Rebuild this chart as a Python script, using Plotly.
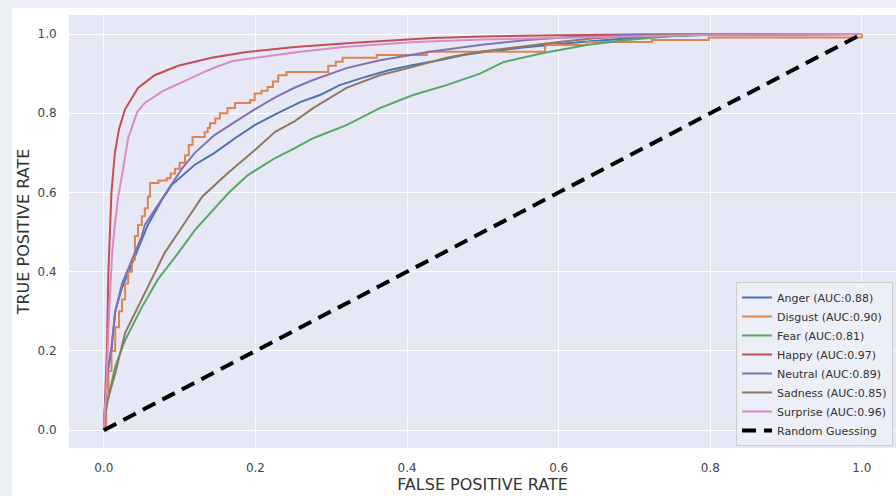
import plotly.graph_objects as go

# ---------------- data ----------------
anger_fpr = [0, 0.002, 0.005, 0.01, 0.015, 0.024, 0.037, 0.05, 0.058, 0.076, 0.09, 0.12, 0.146, 0.173, 0.199, 0.226,
             0.259, 0.285, 0.311, 0.342, 0.377, 0.408, 0.443, 0.474, 0.5, 0.55, 0.6, 0.65, 0.7, 0.75, 0.8, 1.0]
anger_tpr = [0, 0.08, 0.15, 0.2, 0.30, 0.36, 0.42, 0.48, 0.518, 0.58, 0.62, 0.67, 0.70, 0.737, 0.77, 0.797,
             0.828, 0.846, 0.871, 0.89, 0.909, 0.922, 0.934, 0.947, 0.954, 0.965, 0.975, 0.983, 0.99, 0.995, 0.998, 1.0]

disgust_fpr = [0, 0.003, 0.006, 0.01, 0.015, 0.02, 0.024, 0.028, 0.032, 0.037, 0.041, 0.045, 0.05, 0.054, 0.058,
               0.061, 0.072, 0.083, 0.088, 0.094, 0.1, 0.107, 0.112, 0.117, 0.133, 0.137, 0.14, 0.147, 0.153, 0.163,
               0.173, 0.193, 0.199, 0.208, 0.216, 0.223, 0.23, 0.241, 0.296, 0.306, 0.315, 0.36, 0.426, 0.582,
               0.637, 0.723, 0.798, 1.0]
disgust_tpr = [0, 0.08, 0.15, 0.2, 0.26, 0.3, 0.33, 0.37, 0.40, 0.43, 0.49, 0.518, 0.54, 0.56, 0.59,
               0.624, 0.63, 0.636, 0.648, 0.66, 0.675, 0.694, 0.72, 0.74, 0.752, 0.763, 0.775, 0.787, 0.80, 0.813,
               0.826, 0.833, 0.85, 0.857, 0.866, 0.88, 0.896, 0.904, 0.92, 0.93, 0.94, 0.947, 0.955, 0.972,
               0.98, 0.985, 0.991, 1.0]

fear_fpr = [0, 0.002, 0.005, 0.01, 0.015, 0.028, 0.05, 0.071, 0.098, 0.12, 0.146, 0.165, 0.19, 0.226, 0.252, 0.276,
            0.32, 0.364, 0.408, 0.452, 0.496, 0.527, 0.58, 0.637, 0.69, 0.72, 0.75, 0.8, 1.0]
fear_tpr = [0, 0.04, 0.076, 0.12, 0.16, 0.227, 0.31, 0.38, 0.447, 0.505, 0.56, 0.6, 0.644, 0.687, 0.712, 0.737,
            0.77, 0.813, 0.846, 0.871, 0.9, 0.929, 0.952, 0.972, 0.985, 0.99, 0.995, 0.998, 1.0]

happy_fpr = [0, 0.004, 0.006, 0.008, 0.01, 0.0145, 0.02, 0.028, 0.045, 0.067, 0.098, 0.142, 0.186, 0.252, 0.33,
             0.434, 0.5, 0.6, 0.7, 1.0]
happy_tpr = [0, 0.2, 0.4, 0.52, 0.6, 0.70, 0.76, 0.81, 0.864, 0.896, 0.92, 0.94, 0.954, 0.967, 0.978,
             0.99, 0.994, 0.997, 0.999, 1.0]

neutral_fpr = [0, 0.002, 0.005, 0.01, 0.015, 0.024, 0.037, 0.05, 0.054, 0.077, 0.103, 0.12, 0.146, 0.173, 0.199,
               0.226, 0.252, 0.276, 0.32, 0.364, 0.43, 0.496, 0.558, 0.62, 0.7, 1.0]
neutral_tpr = [0, 0.08, 0.15, 0.21, 0.30, 0.37, 0.43, 0.49, 0.518, 0.586, 0.66, 0.70, 0.745, 0.778, 0.81,
               0.84, 0.865, 0.884, 0.914, 0.934, 0.955, 0.972, 0.985, 0.993, 0.998, 1.0]

sadness_fpr = [0, 0.002, 0.005, 0.015, 0.028, 0.045, 0.063, 0.08, 0.103, 0.13, 0.164, 0.195, 0.226, 0.252, 0.276,
               0.32, 0.364, 0.408, 0.452, 0.496, 0.55, 0.6, 0.65, 0.75, 1.0]
sadness_tpr = [0, 0.04, 0.076, 0.144, 0.245, 0.31, 0.38, 0.447, 0.513, 0.59, 0.65, 0.70, 0.753, 0.78, 0.813,
               0.864, 0.896, 0.917, 0.94, 0.955, 0.968, 0.98, 0.99, 0.998, 1.0]

surprise_fpr = [0, 0.003, 0.007, 0.011, 0.0145, 0.019, 0.024, 0.032, 0.044, 0.054, 0.077, 0.111, 0.137, 0.15,
                0.17, 0.208, 0.259, 0.32, 0.41, 0.5, 0.6, 0.7, 0.8, 1.0]
surprise_tpr = [0, 0.1, 0.3, 0.45, 0.518, 0.59, 0.644, 0.737, 0.803, 0.826, 0.855, 0.886, 0.908, 0.918,
                0.932, 0.942, 0.955, 0.968, 0.98, 0.986, 0.99, 0.995, 0.998, 1.0]

random_x = [0, 1]
random_y = [0, 1]

class_names = ["Anger", "Disgust", "Fear", "Happy", "Neutral", "Sadness", "Surprise"]
auc_values = [0.88, 0.90, 0.81, 0.97, 0.89, 0.85, 0.96]
colors = ["#4C72B0", "#DD8452", "#55A868", "#C44E52", "#8172B3", "#937860", "#DA8BC3"]

x_ticks = [0.0, 0.2, 0.4, 0.6, 0.8, 1.0]
y_ticks = [0.0, 0.2, 0.4, 0.6, 0.8, 1.0]

curves = [
    (anger_fpr, anger_tpr),
    (disgust_fpr, disgust_tpr),
    (fear_fpr, fear_tpr),
    (happy_fpr, happy_tpr),
    (neutral_fpr, neutral_tpr),
    (sadness_fpr, sadness_tpr),
    (surprise_fpr, surprise_tpr),
]

fig = go.Figure()
for (fx, ty), name, auc, col in zip(curves, class_names, auc_values, colors):
    fig.add_trace(go.Scatter(
        x=fx, y=ty, mode="lines",
        name=f"{name} (AUC:{auc:.2f})",
        line=dict(color=col, width=2, shape="hv" if name == "Disgust" else "linear"),
    ))

fig.add_trace(go.Scatter(
    x=random_x, y=random_y, mode="lines", name="Random Guessing",
    line=dict(color="black", width=4, dash="14px,8px"),
))

font_family = "DejaVu Sans"
L, R, T, B = 69, 0, 15, 48
W, H = 896, 496
pw = W - L - R
ph = H - T - B

fig.update_layout(
    width=W, height=H,
    margin=dict(l=L, r=R, t=T, b=B, pad=0),
    paper_bgcolor="white",
    plot_bgcolor="#e6e8f6",
    font=dict(family=font_family, color="#444444", size=12),
    showlegend=True,
    legend=dict(
        x=(893 - L) / pw, xanchor="right",
        y=(H - B - 446) / ph, yanchor="bottom",
        bgcolor="rgba(236,238,248,0.85)",
        bordercolor="#cccccc", borderwidth=1,
        font=dict(family=font_family, size=11, color="#333333"),
        tracegroupgap=0,
    ),
    xaxis=dict(
        range=[-0.046, 1.045], tickvals=x_ticks, ticktext=[f"{v:.1f}" for v in x_ticks],
        showgrid=True, gridcolor="white", gridwidth=1, zeroline=False,
        ticks="outside", ticklen=9, tickcolor="rgba(0,0,0,0)", showline=False,
        tickfont=dict(size=12, color="#444444"),
        title=dict(text="FALSE POSITIVE RATE", font=dict(size=16, color="#333333"), standoff=4),
    ),
    yaxis=dict(
        range=[-0.045, 1.048], tickvals=y_ticks, ticktext=[f"{v:.1f}" for v in y_ticks],
        showgrid=True, gridcolor="white", gridwidth=1, zeroline=False,
        ticks="outside", ticklen=9, tickcolor="rgba(0,0,0,0)", showline=False,
        tickfont=dict(size=12, color="#444444"),
        title=dict(text="TRUE POSITIVE RATE", font=dict(size=16, color="#333333"), standoff=3),
    ),
)

# outer frame strips (screenshot border)
outer = "#eef0f8"
fig.add_shape(type="rect", xref="paper", yref="paper",
              x0=-L / pw - 0.01, x1=(12 - L) / pw, y0=-B / ph - 0.01, y1=1 + T / ph + 0.01,
              fillcolor=outer, line=dict(width=0), layer="below")
fig.add_shape(type="rect", xref="paper", yref="paper",
              x0=-L / pw - 0.01, x1=1.01, y0=(H - 8 - B) / ph, y1=1 + T / ph + 0.01,
              fillcolor=outer, line=dict(width=0), layer="below")

fig.write_html(
    "out.html",
    config={"displayModeBar": False},
    post_script="document.body.style.margin='0';document.body.style.overflow='hidden';",
)
